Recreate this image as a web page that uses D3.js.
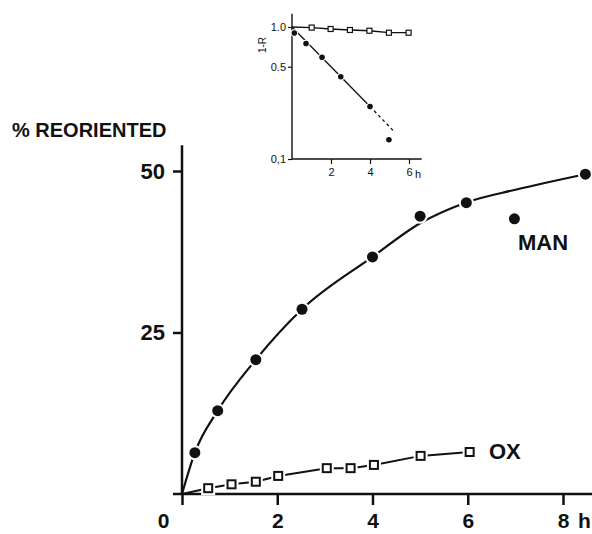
<!DOCTYPE html>
<html>
  <head>
    <script src="https://d3js.org/d3.v7.min.js"></script>
    <style>
      body{ margin:0; background:#fff; }
      svg{ display:block; }
      .lbl{ font-family:"Liberation Sans", Arial, sans-serif; font-weight:bold; fill:#111; }
      .small{ font-family:"Liberation Sans", Arial, sans-serif; fill:#111; }
    </style>
  </head>
  <body>
    <script>
      var width = 592;
      var height = 534;

      // main panel: % reoriented against time (h)
      var manTime  = [0.27, 0.75, 1.55, 2.52, 4.0, 5.0, 5.97, 6.98, 8.47];
      var manValue = [6.4, 12.9, 20.8, 28.6, 36.7, 43.0, 45.1, 42.6, 49.5];
      // the hand-drawn curve
      var manCurveTime  = [0, 0.27, 0.75, 1.55, 2.52, 4.0, 5.0, 6.0, 7.0, 8.47];
      var manCurveValue = [0, 6.4, 12.9, 20.8, 28.6, 36.7, 41.9, 45.2, 47.1, 49.5];
      var oxTime  = [0.55, 1.04, 1.55, 2.02, 3.04, 3.54, 4.03, 5.01, 6.04];
      var oxValue = [0.9, 1.5, 1.9, 2.8, 4.0, 4.0, 4.5, 5.9, 6.5];
      var xTicks = [0, 2, 4, 6, 8];
      var yTicks = [25, 50];

      // inset: 1-R on a log axis
      var inManTime  = [0.12, 0.72, 1.54, 2.5, 4.0, 4.97];
      var inManValue = [0.90, 0.75, 0.59, 0.42, 0.25, 0.14];
      var inOxTime  = [1.01, 1.98, 2.97, 3.97, 4.97, 5.98];
      var inOxValue = [0.99, 0.966, 0.949, 0.937, 0.905, 0.905];
      var inFitTime  = [0, 4.0, 5.28];
      var inFitValue = [1.0, 0.25, 0.159];
      var inXTicks = [2, 4, 6];
      var inYTicks = [0.1, 0.5, 1.0];
      var inYLabels = ["0,1", "0.5", "1.0"];

      var svg = d3.select("body")
        .append("svg")
        .attr("width", width)
        .attr("height", height);

      var x = d3.scaleLinear().domain([0, 8]).range([182, 563]);
      var y = d3.scaleLinear().domain([0, 50]).range([494, 171]);

      // axes lines
      svg.append("line")
        .attr("x1", x(-0.19)).attr("x2", width)
        .attr("y1", y(0)).attr("y2", y(0))
        .attr("stroke", "#111").attr("stroke-width", 2.5);
      svg.append("line")
        .attr("x1", x(0)).attr("x2", x(0))
        .attr("y1", y(54)).attr("y2", y(0))
        .attr("stroke", "#111").attr("stroke-width", 2.5);

      var xAxis = svg.append("g")
        .attr("transform", `translate(0,${y(0)})`)
        .call(d3.axisBottom(x).tickValues(xTicks).tickSize(11).tickPadding(8).tickFormat(d3.format("d")));
      xAxis.select(".domain").remove();
      xAxis.selectAll("line").attr("stroke", "#111").attr("stroke-width", 2.5);
      xAxis.selectAll("text").attr("class", "lbl").style("font-size", "21px")
        .attr("x", function(d){ return d === 0 ? -19 : 0; });

      var yAxis = svg.append("g")
        .attr("transform", `translate(${x(0)},0)`)
        .call(d3.axisLeft(y).tickValues(yTicks).tickSize(9).tickPadding(8));
      yAxis.select(".domain").remove();
      yAxis.selectAll("line").attr("stroke", "#111").attr("stroke-width", 2.5);
      yAxis.selectAll("text").attr("class", "lbl").style("font-size", "22px");

      svg.append("text").attr("class", "lbl")
        .attr("x", 578).attr("y", y(0) + 34)
        .style("font-size", "21px")
        .text("h");

      svg.append("text").attr("class", "lbl")
        .attr("x", 12).attr("y", 137)
        .style("font-size", "20px")
        .text("% REORIENTED");

      // MAN curve and points
      var manPts = manTime.map(function(t, i){ return [t, manValue[i]]; });
      var curvePts = manCurveTime.map(function(t, i){ return [t, manCurveValue[i]]; });
      var line = d3.line()
        .x(function(d){ return x(d[0]); })
        .y(function(d){ return y(d[1]); });

      svg.append("path")
        .attr("d", line.curve(d3.curveMonotoneX)(curvePts))
        .attr("fill", "none").attr("stroke", "#111").attr("stroke-width", 2.2);

      var oxPts = oxTime.map(function(t, i){ return [t, oxValue[i]]; });
      svg.append("path")
        .attr("d", line.curve(d3.curveLinear)([[0, 0]].concat(oxPts)))
        .attr("fill", "none").attr("stroke", "#111").attr("stroke-width", 2);

      svg.selectAll(".man")
        .data(manPts)
        .enter()
        .append("circle")
          .attr("cx", function(d){ return x(d[0]); })
          .attr("cy", function(d){ return y(d[1]); })
          .attr("r", 5.5)
          .attr("fill", "#111")
          .attr("stroke", "#fff")
          .attr("stroke-width", 4)
          .attr("paint-order", "stroke");

      var sq = 8;
      svg.selectAll(".oxHalo")
        .data(oxPts)
        .enter()
        .append("rect")
          .attr("x", function(d){ return x(d[0]) - sq/2 - 3; })
          .attr("y", function(d){ return y(d[1]) - sq/2 - 3; })
          .attr("width", sq + 6).attr("height", sq + 6)
          .attr("fill", "#fff");
      svg.selectAll(".ox")
        .data(oxPts)
        .enter()
        .append("rect")
          .attr("x", function(d){ return x(d[0]) - sq/2; })
          .attr("y", function(d){ return y(d[1]) - sq/2; })
          .attr("width", sq).attr("height", sq)
          .attr("fill", "#fff")
          .attr("stroke", "#111")
          .attr("stroke-width", 2);

      svg.append("text").attr("class", "lbl")
        .attr("x", 518).attr("y", y(37.75))
        .style("font-size", "22px")
        .text("MAN");
      svg.append("text").attr("class", "lbl")
        .attr("x", 489).attr("y", y(5.4))
        .style("font-size", "22px")
        .text("OX");

      // ---- inset ----
      var ix = d3.scaleLinear().domain([0, 6]).range([292, 409]);
      var iy = d3.scaleLog().domain([0.1, 1]).range([159, 27]);

      svg.append("line")
        .attr("x1", ix(0)).attr("x2", ix(6.65))
        .attr("y1", iy(0.1)).attr("y2", iy(0.1))
        .attr("stroke", "#111").attr("stroke-width", 1.4);
      svg.append("line")
        .attr("x1", ix(0)).attr("x2", ix(0))
        .attr("y1", iy(1.26)).attr("y2", iy(0.1))
        .attr("stroke", "#111").attr("stroke-width", 1.4);

      var ixAxis = svg.append("g")
        .attr("transform", `translate(0,${iy(0.1)})`)
        .call(d3.axisBottom(ix).tickValues(inXTicks).tickSize(5).tickPadding(4).tickFormat(d3.format("d")));
      ixAxis.select(".domain").remove();
      ixAxis.selectAll("line").attr("stroke", "#111").attr("stroke-width", 1.2);
      ixAxis.selectAll("text").attr("class", "small").style("font-size", "11px");

      var iyAxis = svg.append("g")
        .attr("transform", `translate(${ix(0)},0)`)
        .call(d3.axisLeft(iy).tickValues(inYTicks).tickSize(4).tickPadding(2)
          .tickFormat(function(d, i){ return inYLabels[i]; }));
      iyAxis.select(".domain").remove();
      iyAxis.selectAll("line").attr("stroke", "#111").attr("stroke-width", 1.2);
      iyAxis.selectAll("text").attr("class", "small").style("font-size", "11px");

      svg.append("text").attr("class", "small")
        .attr("x", ix(6) + 6).attr("y", iy(0.1) + 19)
        .style("font-size", "11px")
        .text("h");
      svg.append("text").attr("class", "small")
        .attr("transform", `translate(266,${iy(0.73)}) rotate(-90)`)
        .attr("text-anchor", "middle")
        .style("font-size", "10px")
        .text("1-R");

      var iline = d3.line()
        .x(function(d){ return ix(d[0]); })
        .y(function(d){ return iy(d[1]); });
      var fitPts = inFitTime.map(function(t, i){ return [t, inFitValue[i]]; });
      svg.append("path")
        .attr("d", iline(fitPts.slice(0, 2)))
        .attr("fill", "none").attr("stroke", "#111").attr("stroke-width", 1.3);
      svg.append("path")
        .attr("d", iline(fitPts.slice(1)))
        .attr("fill", "none").attr("stroke", "#111").attr("stroke-width", 1.3)
        .attr("stroke-dasharray", "3,3");

      var inOxPts = inOxTime.map(function(t, i){ return [t, inOxValue[i]]; });
      svg.append("path")
        .attr("d", iline([[0, 1.0]].concat(inOxPts)))
        .attr("fill", "none").attr("stroke", "#111").attr("stroke-width", 1.3);

      var inManPts = inManTime.map(function(t, i){ return [t, inManValue[i]]; });
      svg.selectAll(".iman")
        .data(inManPts)
        .enter()
        .append("circle")
          .attr("cx", function(d){ return ix(d[0]); })
          .attr("cy", function(d){ return iy(d[1]); })
          .attr("r", 2.8)
          .attr("fill", "#111")
          .attr("stroke", "#fff")
          .attr("stroke-width", 2)
          .attr("paint-order", "stroke");

      var isq = 5;
      svg.selectAll(".iox")
        .data(inOxPts)
        .enter()
        .append("rect")
          .attr("x", function(d){ return ix(d[0]) - isq/2; })
          .attr("y", function(d){ return iy(d[1]) - isq/2; })
          .attr("width", isq).attr("height", isq)
          .attr("fill", "#fff")
          .attr("stroke", "#111")
          .attr("stroke-width", 1.2);
    </script>
  </body>
</html>
